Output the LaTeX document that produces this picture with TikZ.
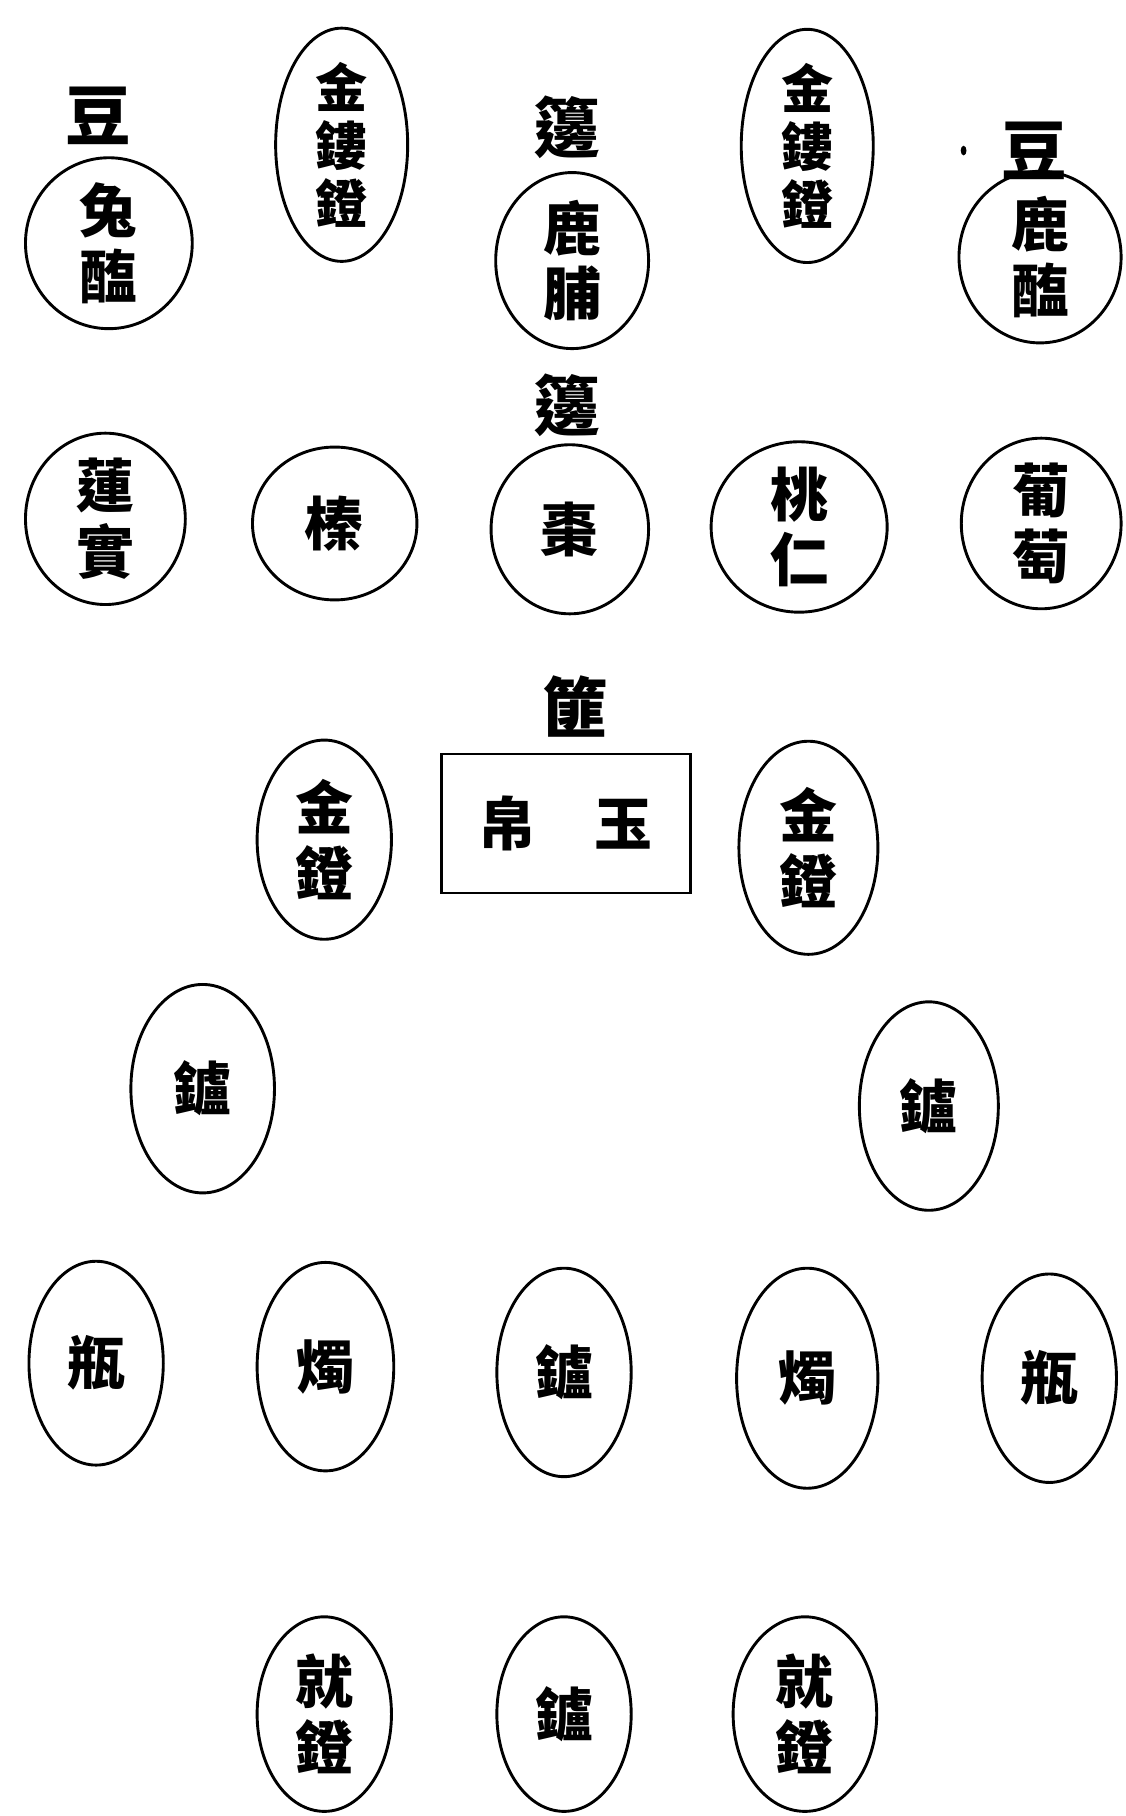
\documentclass[tikz,border=0pt]{standalone}
\usepackage{fontspec}
\newfontfamily\cjk{Noto Sans CJK TC}
\usetikzlibrary{shapes.geometric}
\begin{document}
\begin{tikzpicture}[x=0.6pt,y=-0.6pt,
  vessel/.style={draw, ellipse, line width=1.5pt, inner sep=0pt, align=center,
    font=\cjk\bfseries\fontsize{30}{34}\selectfont},
  vessel3/.style={vessel, font=\cjk\bfseries\fontsize{27}{30}\selectfont},
  ov/.style 2 args={minimum width=#1*1.2pt, minimum height=#2*1.2pt},
  tag/.style={inner sep=0pt, font=\cjk\bfseries\fontsize{34}{34}\selectfont},
  box/.style={draw, rectangle, line width=1.5pt, inner sep=0pt, minimum width=129pt, minimum height=72pt,
    font=\cjk\bfseries\fontsize{30}{34}\selectfont},
  speck/.style={fill, ellipse, inner sep=0pt, minimum width=3pt, minimum height=5pt}]
\useasboundingbox (0,0) rectangle (972,1568);
% row 1
\node[tag] (dou1) at (85,100) {豆};
\node[vessel, ov={72}{72}] (tuhai) at (94,210) {兔\\醢};
\node[vessel3, ov={57}{90}] (jinloudeng1) at (295,125) {金\\鏤\\鐙};
\node[tag] (bian1) at (490,110) {籩};
\node[vessel, ov={66}{76}] (lufu) at (494,225) {鹿\\脯};
\node[vessel3, ov={57}{89}] (jinloudeng2) at (697,126) {金\\鏤\\鐙};
\node[speck] (mark) at (832,130) {};
\node[tag] (dou2) at (893,130) {豆};
\node[vessel, ov={70}{72}] (luhai) at (898,222) {鹿\\醢};
% row 2
\node[vessel, ov={69}{65}] (lianshi) at (91,448) {蓮\\實};
\node[vessel, ov={71}{66}] (zhen) at (289,452) {榛};
\node[tag] (bian2) at (490,350) {籩};
\node[vessel, ov={68}{73}] (zao) at (492,457) {棗};
\node[vessel, ov={76}{70}] (taoren) at (690,455) {桃\\仁};
\node[vessel, ov={69}{68}] (putao) at (899,452) {葡\\萄};
% row 3
\node[tag] (fei) at (497,610) {篚};
\node[vessel, ov={58}{86}] (jindeng1) at (280,725) {金\\鐙};
\node[box] (boyu) at (488.5,711) {帛\hspace{30pt}玉};
\node[vessel, ov={60}{92}] (jindeng2) at (698,732) {金\\鐙};
% row 4
\node[vessel, ov={62}{90}] (lu1) at (175,940) {鑪};
\node[vessel, ov={60}{90}] (lu2) at (802,955) {鑪};
% row 5
\node[vessel, ov={58}{88}] (ping1) at (83,1177) {瓶};
\node[vessel, ov={59}{90}] (zhu1) at (281,1180) {燭};
\node[vessel, ov={58}{90}] (lu3) at (487,1185) {鑪};
\node[vessel, ov={61}{95}] (zhu2) at (697,1190) {燭};
\node[vessel, ov={58}{90}] (ping2) at (906,1190) {瓶};
% row 6
\node[vessel, ov={58}{84}] (jiudeng1) at (280,1480) {就\\鐙};
\node[vessel, ov={58}{84}] (lu4) at (487,1480) {鑪};
\node[vessel, ov={62}{84}] (jiudeng2) at (695,1480) {就\\鐙};
\end{tikzpicture}
\end{document}
